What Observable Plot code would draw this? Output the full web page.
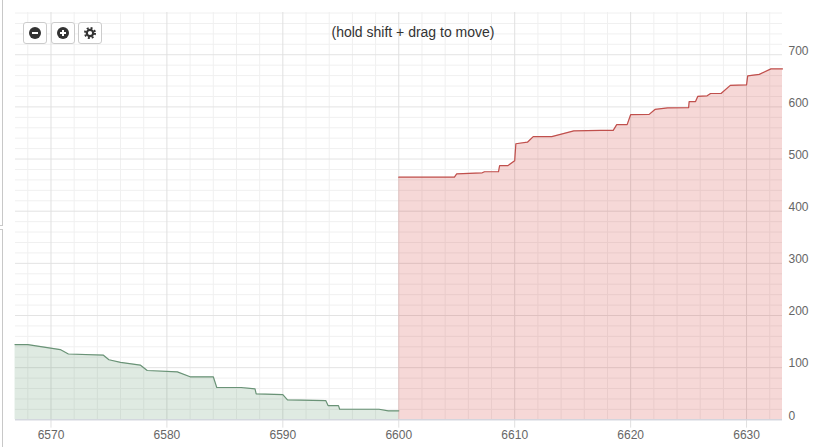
<!DOCTYPE html>
<html><head><meta charset="utf-8">
<script src="https://cdn.jsdelivr.net/npm/d3@7"></script>
<script src="https://cdn.jsdelivr.net/npm/@observablehq/plot@0.6"></script>
<style>
html,body{margin:0;padding:0;background:#fff;overflow:hidden}
#wrap{position:relative;width:815px;height:447px}
.edge{position:absolute;background:#c8c8c8}
#hint{position:absolute;left:213px;width:400px;top:24px;text-align:center;font:14px/16px "Liberation Sans",Arial,sans-serif;color:#333}
.btn{position:absolute;top:22px;width:22px;height:20px;border:1px solid #ccc;border-radius:3px;background:#fff;display:flex;align-items:center;justify-content:center;box-sizing:content-box}
.ic{width:12px;height:12px;border-radius:50%;background:#333;position:relative}
.ic i{position:absolute;background:#fff}
#chart svg{position:absolute;left:0;top:0}
.btn svg{display:block}
</style></head><body>
<div id="wrap">
<div class="edge" style="left:2px;top:0;width:1px;height:225px"></div>
<div class="edge" style="left:2px;top:230px;width:1px;height:217px"></div>
<div class="edge" style="left:0;top:225px;width:3px;height:1px"></div>
<div class="edge" style="left:0;top:229px;width:3px;height:1px"></div>
<div id="chart"></div>
<div class="btn" style="left:23px"><div class="ic"><i style="left:3px;top:5px;width:6px;height:2px"></i></div></div>
<div class="btn" style="left:51px"><div class="ic"><i style="left:3px;top:5px;width:6px;height:2px"></i><i style="left:5px;top:3px;width:2px;height:6px"></i></div></div>
<div class="btn" style="left:78px"><svg width="12" height="12" viewBox="0 0 12 12"><circle cx="6" cy="6" r="3.2" fill="none" stroke="#333" stroke-width="2.2"/><circle cx="6" cy="6" r="5" fill="none" stroke="#333" stroke-width="2" stroke-dasharray="1.96 1.97"/></svg></div>
<div id="hint">(hold shift + drag to move)</div>
</div>
<script>
const bidX=[6566.9,6568,6570.8,6571.5,6574.5,6575,6576,6577.7,6578.3,6580.9,6582,6584,6584.3,6586.4,6587.6,6587.7,6590,6590.4,6593.7,6593.9,6594.8,6594.9,6598.3,6599.1,6600];
const bidY=[144.2,144.2,134.7,126.2,124.1,115.1,110.1,105,94.5,92,82.5,82.5,61.9,61.9,59.4,49.8,48.3,38.3,36.8,27.2,27.2,20.2,20.2,17.2,17.2];
const askX=[6600,6604.8,6605,6607.2,6607.4,6608.6,6608.7,6609.4,6610,6610.1,6611.1,6611.6,6613.2,6615.1,6617.4,6618.5,6618.8,6619.7,6620,6621.6,6622.1,6623.2,6625,6625.05,6625.6,6625.8,6626.6,6626.9,6627.8,6628.6,6630,6630.1,6631.1,6632.1,6633.1];
const askY=[465.3,465.3,471.6,473.6,475.6,475.6,487.2,487.2,496.7,529.3,532.3,542.9,542.9,553.9,554.9,554.9,566,566,585,585.6,595.1,598.1,598.6,610.2,610.2,620.2,621.2,625.7,625.7,641.3,642.3,659.4,662.4,672.9,672.9];
const xMajor=[6570,6580,6590,6600,6610,6620,6630];
const yMajor=[0,100,200,300,400,500,600,700];
const xMinor=[6568,6572,6574,6576,6578,6582,6584,6586,6588,6592,6594,6596,6598,6602,6604,6606,6608,6612,6614,6616,6618,6622,6624,6626,6628,6632];
const yMinor=[20,40,60,80,120,140,160,180,220,240,260,280,320,340,360,380,420,440,460,480,520,540,560,580,620,640,660,680,720,740,760,780];
const bid=bidX.map((x,i)=>({x,y:bidY[i]}));
const ask=askX.map((x,i)=>({x,y:askY[i]}));
const tickFont={fontFamily:"Liberation Sans",fontSize:12,fill:"#666",letterSpacing:"0.6px"};
const plot=Plot.plot({
  width:815,height:447,marginLeft:15,marginRight:33,marginTop:12,marginBottom:27.7,
  style:{background:"transparent",overflow:"visible"},
  x:{domain:[6566.94,6633.1],axis:null},
  y:{domain:[0,781],axis:null},
  marks:[
    Plot.ruleY(yMinor,{stroke:"#f0f0f0",strokeWidth:1}),
    Plot.ruleX(xMinor,{stroke:"#f0f0f0",strokeWidth:1}),
    Plot.ruleY(yMajor,{stroke:"#e3e3e3",strokeWidth:1}),
    Plot.ruleX(xMajor,{stroke:"#e0e0e0",strokeWidth:1,y1:-16,y2:781}),
    Plot.areaY(bid,{x:"x",y:"y",fill:"#5f9470",fillOpacity:0.2}),
    Plot.areaY(ask,{x:"x",y:"y",fill:"#d0302c",fillOpacity:0.19}),
    Plot.line(bid,{x:"x",y:"y",stroke:"#6a9377",strokeWidth:1.2}),
    Plot.line(ask,{x:"x",y:"y",stroke:"#c0504d",strokeWidth:1.2}),
    Plot.ruleY([0],{stroke:"#ccd0dc",strokeWidth:1}),
    Plot.text(xMajor,{x:d=>d,frameAnchor:"bottom",dy:19,text:d=>String(d),textAnchor:"middle",...tickFont}),
    Plot.text(yMajor,{y:d=>d,x:6633.1,dx:6,dy:-4,text:d=>String(d),textAnchor:"start",...tickFont})
  ]
});
document.getElementById("chart").appendChild(plot);
</script>
</body></html>
